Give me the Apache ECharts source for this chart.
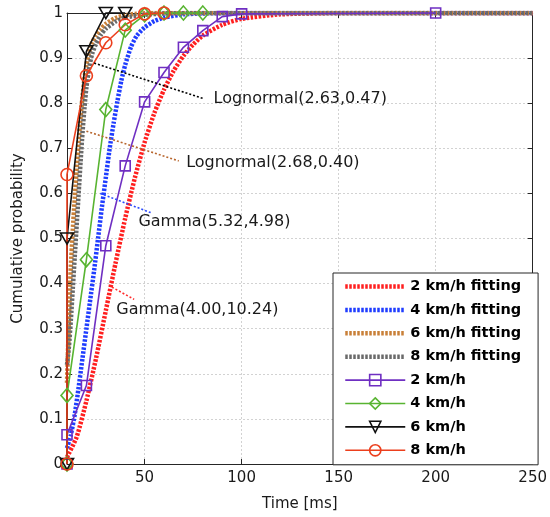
<!DOCTYPE html>
<html>
<head>
<meta charset="utf-8">
<script src="https://cdn.jsdelivr.net/npm/echarts@6/dist/echarts.min.js"></script>
<style>
  html, body { margin: 0; padding: 0; background: #fff; }
  #chart { width: 550px; height: 517px; }
</style>
</head>
<body>
<div id="chart"></div>
<script>
// Cumulative distribution of delay at four walking speeds:
// measured points (markers) and fitted distributions (thick dotted curves).

const speedLabels = ['2 km/h', '4 km/h', '6 km/h', '8 km/h'];
const fitLabels = ['2 km/h fitting', '4 km/h fitting', '6 km/h fitting', '8 km/h fitting'];
const fitNames = ['Gamma(4.00,10.24)', 'Gamma(5.32,4.98)', 'Lognormal(2.68,0.40)', 'Lognormal(2.63,0.47)'];

// measured CDF samples [ms]
const measTimes = [10, 10, 20, 30, 40, 50, 60, 70, 80, 90, 100, 200];
const meas2 = [0, 0.065, 0.174, 0.484, 0.661, 0.803, 0.868, 0.924, 0.961, 0.992, 0.998, 1.0];
const meas4 = [0, 0.152, 0.453, 0.786, 0.962, 0.996, 1.0, 1.0, 1.0];
const meas6 = [0, 0.5, 0.915, 1.0, 1.0];
const meas8 = [0, 0.642, 0.861, 0.934, 0.974, 0.998, 1.0];

// fitted curves
const fitTime2 = [10, 15, 20, 25, 30, 35, 40, 45, 50, 55, 60, 65, 70, 75, 80, 90, 100, 120, 150, 250];
const fit2 = [0.015, 0.06, 0.14, 0.235, 0.34, 0.445, 0.545, 0.635, 0.713, 0.778, 0.83, 0.872, 0.905, 0.93, 0.95, 0.974, 0.987, 0.997, 1.0, 1.0];

const fitTime4 = [10, 12, 14, 16, 18, 20, 22, 24, 26, 28, 30, 32, 34, 36, 38, 40, 43, 46, 50, 55, 60, 70, 80, 100, 250];
const fit4 = [0.035, 0.065, 0.11, 0.17, 0.235, 0.30, 0.365, 0.43, 0.50, 0.57, 0.635, 0.70, 0.755, 0.805, 0.85, 0.885, 0.925, 0.95, 0.968, 0.982, 0.99, 0.997, 0.999, 1.0, 1.0];

const fitTime6 = [10, 10.5, 11, 11.5, 12, 13, 14, 15, 16, 17, 18, 19, 20, 21.5, 23, 25, 27.5, 30, 35, 40, 45, 55, 250];
const fit6 = [0.18, 0.25, 0.32, 0.385, 0.44, 0.52, 0.59, 0.655, 0.715, 0.77, 0.815, 0.855, 0.885, 0.915, 0.935, 0.951, 0.965, 0.976, 0.989, 0.995, 0.998, 1.0, 1.0];

const fitTime8 = [10, 11, 12, 13, 14, 15, 16, 17, 18, 19, 20, 21.5, 23, 25, 27.5, 30, 35, 40, 50, 60, 80, 250];
const fit8 = [0.22, 0.26, 0.32, 0.39, 0.46, 0.53, 0.60, 0.67, 0.735, 0.79, 0.835, 0.88, 0.91, 0.932, 0.952, 0.965, 0.981, 0.99, 0.996, 0.999, 1.0, 1.0];

const xTickValues = [50, 100, 150, 200, 250];

const FONT = 'DejaVu Sans';
const INK = '#1a1a1a';
const GRID_LINE = '#d2d2d2';

const fitTimes = [fitTime2, fitTime4, fitTime6, fitTime8];
const fitValues = [fit2, fit4, fit6, fit8];
const measValues = [meas2, meas4, meas6, meas8];

const fitColors = ['#ff1f1f', '#1f3dff', '#c98038', '#6a6a6a'];
const measColors = ['#6f2fc2', '#58b431', '#111111', '#ec3f1d'];
const measSymbols = ['rect', 'diamond', 'triangle', 'circle'];
const measSizes = [10, [12, 14], [13, 11], 12];
const measRotate = [0, 0, 180, 0];

const pairs = (xs, ys) => ys.map((y, i) => [xs[i], y]);

const fitSeries = fitLabels.map((name, i) => ({
  type: 'line',
  name,
  data: pairs(fitTimes[i], fitValues[i]),
  smooth: 0.2,
  symbol: 'none',
  z: 2,
  lineStyle: { color: fitColors[i], width: 4.5, type: [2.5, 1.5], cap: 'butt' },
  itemStyle: { color: 'rgba(0,0,0,0)' },
  emphasis: { disabled: true }
}));

const measSeries = speedLabels.map((name, i) => ({
  type: 'line',
  name,
  data: pairs(measTimes, measValues[i]),
  symbol: measSymbols[i],
  symbolSize: measSizes[i],
  symbolRotate: measRotate[i],
  showAllSymbol: true,
  clip: false,
  z: 3,
  lineStyle: { color: measColors[i], width: 1.6 },
  itemStyle: { color: 'rgba(0,0,0,0)', borderColor: measColors[i], borderWidth: 1.6 },
  emphasis: { disabled: true }
}));

const chart = echarts.init(document.getElementById('chart'), null, { renderer: 'canvas' });

const axisLineStyle = { color: '#262626', width: 1 };

chart.setOption({
  animation: false,
  backgroundColor: '#fff',
  textStyle: { fontFamily: FONT },
  grid: { left: 67, right: 13, top: 13, bottom: 51 },
  legend: {
    data: [...fitLabels, ...speedLabels],
    orient: 'vertical',
    left: 333,
    top: 273,
    padding: [6, 17, 7, 10],
    itemWidth: 60,
    itemHeight: 14,
    itemGap: 8.4,
    backgroundColor: '#fff',
    borderColor: '#262626',
    borderWidth: 1,
    selectedMode: false,
    lineStyle: { width: 'inherit', type: 'inherit' },
    itemStyle: { borderWidth: 1.6 },
    textStyle: { fontFamily: FONT, fontSize: 14.5, fontWeight: 'bold', color: '#000', lineHeight: 14 }
  },
  xAxis: [
    {
      type: 'value',
      min: 10,
      max: 250,
      name: 'Time [ms]',
      nameLocation: 'middle',
      nameGap: 33,
      nameTextStyle: { fontFamily: FONT, fontSize: 15, color: INK },
      axisLine: { show: true, onZero: false, lineStyle: axisLineStyle },
      axisTick: { show: true, inside: true, length: 5, customValues: xTickValues, lineStyle: axisLineStyle },
      axisLabel: { customValues: xTickValues, fontFamily: FONT, fontSize: 15, color: INK, margin: 7 },
      splitLine: { show: true, lineStyle: { color: GRID_LINE, type: [2, 2], width: 1 } }
    },
    {
      type: 'value',
      position: 'top',
      min: 10,
      max: 250,
      axisLine: { show: true, onZero: false, lineStyle: axisLineStyle },
      axisTick: { show: true, inside: true, length: 5, customValues: xTickValues, lineStyle: axisLineStyle },
      axisLabel: { show: false },
      splitLine: { show: false }
    }
  ],
  yAxis: [
    {
      type: 'value',
      min: 0,
      max: 1,
      interval: 0.1,
      name: 'Cumulative probability',
      nameLocation: 'middle',
      nameGap: 41,
      nameTextStyle: { fontFamily: FONT, fontSize: 15, color: INK },
      axisLine: { show: true, onZero: false, lineStyle: axisLineStyle },
      axisTick: { show: true, inside: true, length: 5, lineStyle: axisLineStyle },
      axisLabel: { fontFamily: FONT, fontSize: 15, color: INK, margin: 4 },
      splitLine: { show: true, lineStyle: { color: GRID_LINE, type: [2, 2], width: 1 } }
    },
    {
      type: 'value',
      position: 'right',
      min: 0,
      max: 1,
      interval: 0.1,
      axisLine: { show: true, onZero: false, lineStyle: axisLineStyle },
      axisTick: { show: true, inside: true, length: 5, lineStyle: axisLineStyle },
      axisLabel: { show: false },
      splitLine: { show: false }
    }
  ],
  series: [...fitSeries, ...measSeries]
});

// Leader lines from each fitted curve to its distribution label (data coordinates)
const annotationLayout = [
  { from: [33.2, 0.392], to: [44.6, 0.365], text: [35.4, 0.342], color: '#ff2a2a' },
  { from: [27.1, 0.600], to: [54.0, 0.556], text: [46.8, 0.537], color: '#2a4aff' },
  { from: [20.0, 0.738], to: [67.6, 0.672], text: [71.4, 0.668], color: '#b8662e' },
  { from: [24.0, 0.889], to: [80.5, 0.810], text: [85.5, 0.810], color: '#000000' }
];

const px = (p) => chart.convertToPixel({ gridIndex: 0 }, p);
const graphics = [];
annotationLayout.forEach((a, i) => {
  const p1 = px(a.from);
  const p2 = px(a.to);
  const pt = px(a.text);
  graphics.push({
    type: 'line',
    z: 40,
    shape: { x1: p1[0], y1: p1[1], x2: p2[0], y2: p2[1] },
    style: { stroke: a.color, lineWidth: 1.6, lineDash: [2, 2] }
  });
  graphics.push({
    type: 'text',
    z: 40,
    x: pt[0],
    y: pt[1],
    style: { text: fitNames[i], fontFamily: FONT, fontSize: 16, fill: INK, align: 'left', verticalAlign: 'middle' }
  });
});
chart.setOption({ graphic: graphics });
</script>
</body>
</html>
